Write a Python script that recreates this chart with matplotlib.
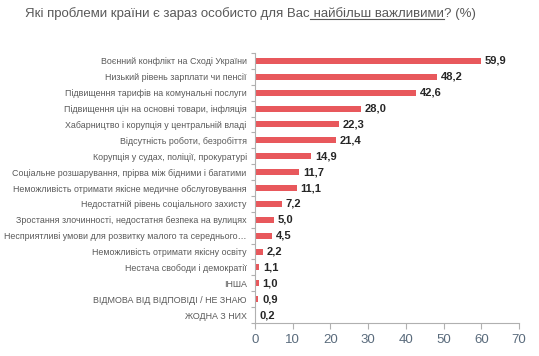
import matplotlib
matplotlib.use("Agg")
import matplotlib.pyplot as plt
from matplotlib.lines import Line2D

categories = [
    "Воєнний конфлікт на Сході України",
    "Низький рівень зарплати чи пенсії",
    "Підвищення тарифів на комунальні послуги",
    "Підвищення цін на основні товари, інфляція",
    "Хабарництво і корупція у центральній владі",
    "Відсутність роботи, безробіття",
    "Корупція у судах, поліції, прокуратурі",
    "Соціальне розшарування, прірва між бідними і багатими",
    "Неможливість отримати якісне медичне обслуговування",
    "Недостатній рівень соціального захисту",
    "Зростання злочинності, недостатня безпека на вулицях",
    "Несприятливі умови для розвитку малого та середнього…",
    "Неможливість отримати якісну освіту",
    "Нестача свободи і демократії",
    "ІНША",
    "ВІДМОВА ВІД ВІДПОВІДІ / НЕ ЗНАЮ",
    "ЖОДНА З НИХ",
]
values = [59.9, 48.2, 42.6, 28.0, 22.3, 21.4, 14.9, 11.7, 11.1, 7.2, 5.0, 4.5, 2.2, 1.1, 1.0, 0.9, 0.2]
xticks = [0, 10, 20, 30, 40, 50, 60, 70]

plt.rcParams['font.family'] = ['Liberation Sans', 'DejaVu Sans']

fig = plt.figure(figsize=(5.39, 3.56), dpi=100)
ax = fig.add_axes([255/539, 1-323/356, 264/539, 270/356])

ypos = list(range(len(categories)))
ax.barh(ypos, values, height=0.38, color="#e8585c")
for y, v in zip(ypos, values):
    ax.text(v + 1.0, y, f"{v:.1f}".replace(".", ","), va="center", ha="left",
            fontsize=8, fontweight="bold", color="#262626")

ax.set_xlim(0, 70)
ax.set_ylim(len(categories) - 0.5, -0.5)
ax.set_xticks(xticks)
ax.set_xticklabels([str(t) for t in xticks], fontsize=9.5, color="#5a6b7c")
ax.set_yticks(ypos)
ax.set_yticklabels(categories, fontsize=6.4, color="#595959")
ax.set_yticks([i + 0.5 for i in range(-1, len(categories))], minor=True)
ax.tick_params(axis='y', which='major', length=0, pad=6)
ax.tick_params(axis='y', which='minor', length=3, color="#b0b0b0", width=0.8)
ax.tick_params(axis='x', which='major', length=4, color="#b0b0b0", width=0.8, pad=4)
for s in ['top', 'right']:
    ax.spines[s].set_visible(False)
ax.spines['left'].set_color("#b0b0b0")
ax.spines['bottom'].set_color("#b0b0b0")
ax.spines['left'].set_linewidth(0.8)
ax.spines['bottom'].set_linewidth(0.8)

# title with underlined part
fs = 9.5
t1 = fig.text(25/539, 1-14/356, "Які проблеми країни є зараз особисто для Вас", fontsize=fs,
              color="#595959", va="center", ha="left")
fig.canvas.draw()
r = fig.canvas.get_renderer()
bb1 = t1.get_window_extent(r)
x2 = bb1.x1 / fig.bbox.width
t2 = fig.text(x2, 1-14/356, " найбільш важливими", fontsize=fs, color="#595959", va="center", ha="left")
bb2 = t2.get_window_extent(r)
x3 = bb2.x1 / fig.bbox.width
t3 = fig.text(x3, 1-14/356, "? (%)", fontsize=fs, color="#595959", va="center", ha="left")
uy = (bb2.y0 + 1) / fig.bbox.height
fig.add_artist(Line2D([bb2.x0 / fig.bbox.width, x3], [uy, uy], transform=fig.transFigure,
                      color="#595959", linewidth=0.8))

fig.savefig("out.png", dpi=100)
